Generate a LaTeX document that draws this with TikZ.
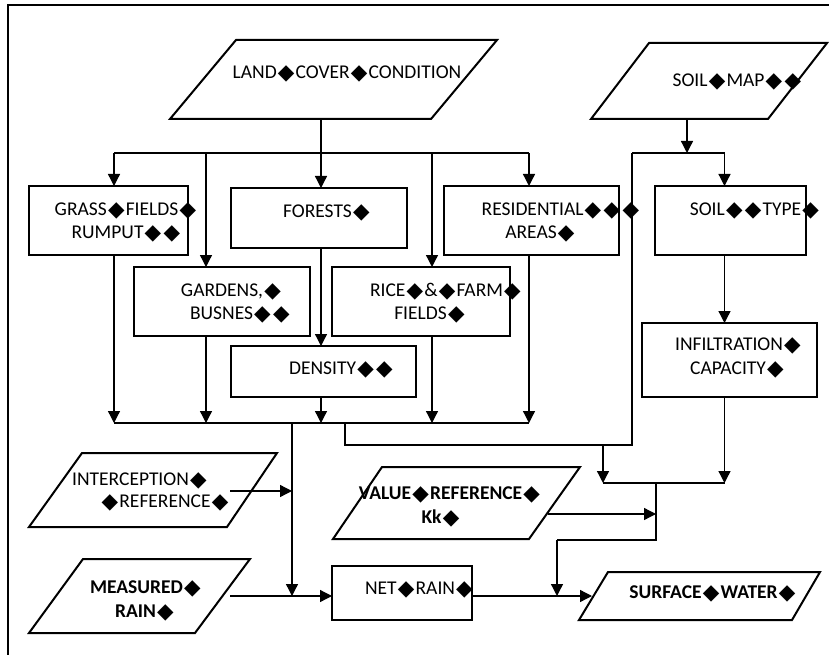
\documentclass[tikz,border=0pt]{standalone}
\usepackage{fontspec}
\setmainfont{Carlito}
\newfontfamily\djv{DejaVu Sans}
\usetikzlibrary{arrows.meta}
\newcommand\dm{{\kern1.2pt\raisebox{-0.6pt}{\djv\fontsize{21.5}{23}\selectfont ◆}\kern1.2pt}}
\tikzset{
  box/.style={draw, line width=2pt, inner sep=0pt, outer sep=0pt},
  para/.style={draw, line width=2pt, line join=miter},
  txt/.style={inner sep=0pt, anchor=base, font=\fontsize{19.5}{23}\selectfont},
  btxt/.style={inner sep=0pt, anchor=base, font=\fontsize{19.5}{23}\selectfont\bfseries},
  conn/.style={line width=1.3pt},
  arr/.style={conn, -{Triangle[width=12pt,length=12pt]}},
  frame/.style={line width=1.3pt}
}
\newcommand\tl[5][txt]{\node[#1] (#2) at (#3,#4+6.5) {#5};}
\begin{document}
\begin{tikzpicture}[x=1pt,y=-1pt]
\useasboundingbox (0,0) rectangle (829,655);
% frame
\coordinate (fr-bl) at (8,655);
\coordinate (fr-tl) at (8,5);
\coordinate (fr-tr) at (829,5);
\draw[frame] (fr-bl) -- (fr-tl) -- (fr-tr);

% parallelograms
\draw[para] (236,40) -- (497,40) -- (431,119) -- (170,119) -- cycle;
\draw[para] (649,43) -- (827,43) -- (768,119) -- (591,119) -- cycle;
\draw[para] (82,453) -- (277,453) -- (227,527) -- (29,527) -- cycle;
\draw[para] (83,559) -- (250,559) -- (195,633) -- (29,633) -- cycle;
\draw[para] (382,467) -- (580,467) -- (529,539) -- (333,539) -- cycle;
\draw[para] (608,572) -- (820,572) -- (792,620) -- (579,620) -- cycle;

% boxes
\node[box, minimum width=159, minimum height=69] (grass) at (108.5,220.5) {};
\node[box, minimum width=176, minimum height=60] (forests) at (319,218) {};
\node[box, minimum width=176, minimum height=69] (gardens) at (222,301.5) {};
\node[box, minimum width=178, minimum height=69] (rice) at (421,301.5) {};
\node[box, minimum width=185, minimum height=51] (density) at (323.5,371.5) {};
\node[box, minimum width=175, minimum height=69] (resid) at (531.5,220.5) {};
\node[box, minimum width=151, minimum height=69] (soiltype) at (730.5,220.5) {};
\node[box, minimum width=175, minimum height=74] (infil) at (729.5,360) {};
\node[box, minimum width=140, minimum height=54] (netrain) at (402,593) {};

% texts
\tl{t-land}{347}{72}{LAND\dm COVER\dm CONDITION}
\tl{t-smap}{737.5}{80}{SOIL\dm MAP\dm\dm}
\tl{t-grass1}{126}{209}{GRASS\dm FIELDS\dm}
\tl{t-grass2}{126.5}{232}{RUMPUT\dm\dm}
\tl{t-forests}{327}{211}{FORESTS\dm}
\tl{t-gard1}{231.5}{290}{GARDENS,\dm}
\tl{t-gard2}{240.5}{313}{BUSNES\dm\dm}
\tl{t-rice1}{446}{290}{RICE\dm\&\dm FARM\dm}
\tl{t-rice2}{430}{313}{FIELDS\dm}
\tl{t-dens}{341.5}{368}{DENSITY\dm\dm}
\tl{t-res1}{561}{209}{RESIDENTIAL\dm\dm\dm}
\tl{t-res2}{540.5}{232}{AREAS\dm}
\tl{t-stype}{755}{209}{SOIL\dm\dm TYPE\dm}
\tl{t-inf1}{738.5}{344}{INFILTRATION\dm}
\tl{t-inf2}{737.5}{368}{CAPACITY\dm}
\tl{t-net}{419.5}{588}{NET\dm RAIN\dm}
\tl{t-int1}{140}{479}{INTERCEPTION\dm}
\tl{t-int2}{165}{501}{\dm REFERENCE\dm}
\tl[btxt]{t-meas1}{146}{587}{MEASURED\dm}
\tl[btxt]{t-meas2}{145}{611}{RAIN\dm}
\tl[btxt]{t-val1}{450}{493}{VALUE\dm REFERENCE\dm}
\tl[btxt]{t-val2}{441}{517}{Kk\dm}
\tl[btxt]{t-surf}{713}{592}{SURFACE\dm WATER\dm}

% connector coordinates
\coordinate (land-s) at (321,119);
\coordinate (smap-s) at (687,119);
\coordinate (s-j) at (687,153);
\coordinate (t-g) at (114,153);
\coordinate (t-ga) at (206,153);
\coordinate (t-ri) at (432,153);
\coordinate (t-re) at (529,153);
\coordinate (s-l) at (632,153);
\coordinate (s-r) at (724.5,153);
\coordinate (b-g) at (114,423);
\coordinate (b-ga) at (206,423);
\coordinate (b-d) at (321,423);
\coordinate (b-ri) at (432,423);
\coordinate (b-re) at (529,423);
\coordinate (c1) at (292,423);
\coordinate (c2) at (345,423);
\coordinate (c3) at (632,445);
\coordinate (d1) at (603,445);
\coordinate (e1) at (603,483);
\coordinate (e2) at (724.5,483);
\coordinate (f1) at (656,483);
\coordinate (f2) at (557,540);
\coordinate (f3) at (557,596);
\coordinate (m-j) at (292,596);
\coordinate (int-e) at (230,491);
\coordinate (meas-e) at (230,596);
\coordinate (val-e) at (548,514);
\coordinate (surf-w) at (592,596);

% top distribution
\draw[arr] (land-s) -- (land-s |- forests.north);
\draw[conn] (t-g) -- (t-re);
\draw[arr] (t-g) -- (t-g |- grass.north);
\draw[arr] (t-ga) -- (t-ga |- gardens.north);
\draw[arr] (t-ri) -- (t-ri |- rice.north);
\draw[arr] (t-re) -- (t-re |- resid.north);
\draw[arr] (forests.south -| land-s) -- (land-s |- density.north);

% soil
\draw[arr] (smap-s) -- (s-j);
\draw[conn] (s-l) -- (s-r);
\draw[arr] (s-r) -- (s-r |- soiltype.north);
\draw[arr] (soiltype.south -| s-r) -- (s-r |- infil.north);

% bottom collection
\draw[conn] (b-g) -- (b-re);
\draw[arr] (grass.south -| b-g) -- (b-g);
\draw[arr] (gardens.south -| b-ga) -- (b-ga);
\draw[arr] (density.south -| b-d) -- (b-d);
\draw[arr] (rice.south -| b-ri) -- (b-ri);
\draw[arr] (resid.south -| b-re) -- (b-re);

% rain
\draw[arr] (c1) -- (m-j);
\draw[arr] (int-e) -- (c1 |- int-e);
\draw[arr] (meas-e) -- (meas-e -| netrain.west);

% to surface water
\draw[conn] (c2) |- (c3) -- (s-l);
\draw[arr] (d1) -- (e1);
\draw[conn] (e1) -- (e2);
\draw[arr] (infil.south -| e2) -- (e2);
\draw[conn] (f1) |- (f2);
\draw[arr] (f2) -- (f3);
\draw[arr] (val-e) -- (f1 |- val-e);
\draw[arr] (netrain.east |- f3) -- (surf-w);
\end{tikzpicture}
\end{document}
